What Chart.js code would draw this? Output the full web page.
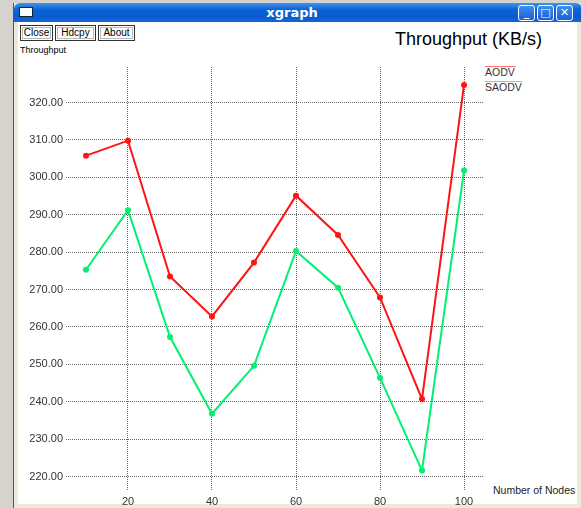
<!DOCTYPE html>
<html>
<head>
<meta charset="utf-8">
<script src="https://cdn.jsdelivr.net/npm/chart.js@4"></script>
<style>
  body { margin: 0; width: 581px; height: 508px; background: #d6d3ce; position: relative; overflow: hidden;
         font-family: "Liberation Sans", Arial, sans-serif; }
  #win { position: absolute; left: 13px; top: 3px; width: 568px; height: 505px; background: #ece9d8;
         border-left: 1px solid #555; }
  #titlebar { position: absolute; left: 0; top: 0; width: 568px; height: 19px; border-radius: 6px 6px 0 0;
              background: linear-gradient(#3f94ec 0%, #0d62d6 35%, #0a5ad0 70%, #1466d8 100%); }
  #titlebar .name { position: absolute; left: 0; width: 556px; top: 2px; text-align: center; color: #fff;
                    font: bold 13px "DejaVu Sans", sans-serif; }
  #titlebar .icon { position: absolute; left: 5px; top: 4px; width: 14px; height: 10px; background: #fff;
                    border: 1px solid #123; box-sizing: border-box; }
  .tb { position: absolute; top: 2px; width: 17px; height: 16px; border: 1px solid #fff; border-radius: 3px;
        box-sizing: border-box; background: linear-gradient(#3c8ff0, #1860d8); color: #fff;
        font: bold 11px "DejaVu Sans", sans-serif; text-align: center; line-height: 13px; }
  #body { position: absolute; left: 4px; top: 19px; width: 559px; height: 482px; background: #fff; }
  .btn { position: absolute; top: 3px; height: 16px; border: 1px solid #333; box-sizing: border-box;
         box-shadow: inset 0 0 0 1px #fff, inset 0 0 0 2px #bbb; font-size: 10px; line-height: 14px;
         text-align: center; color: #000; }
  .txt { position: absolute; color: #000; white-space: nowrap; }
  #chart { position: absolute; left: 17px; top: 56px; }
</style>
</head>
<body>
<div id="win">
  <div id="titlebar">
    <div class="icon"></div>
    <div class="name">xgraph</div>
    <div class="tb" style="left:504px">_</div>
    <div class="tb" style="left:523px">□</div>
    <div class="tb" style="left:542px">✕</div>
  </div>
  <div id="body">
    <div class="btn" style="left:2px;width:33px">Close</div>
    <div class="btn" style="left:37px;width:41px">Hdcpy</div>
    <div class="btn" style="left:80px;width:37px">About</div>
  </div>
</div>
<div class="txt" style="left:20px;top:45px;font-size:9px">Throughput</div>
<div class="txt" style="left:395px;top:29px;font-size:18px">Throughput (KB/s)</div>
<div class="txt" style="left:485px;top:66px;width:31px;height:1px;background:#ff7070"></div>
<div class="txt" style="left:485px;top:66px;font-size:10.5px;color:#333">AODV</div>
<div class="txt" style="left:485px;top:81px;width:37px;height:1px;background:#50f098"></div>
<div class="txt" style="left:485px;top:81px;font-size:10.5px;color:#333">SAODV</div>
<div class="txt" style="left:493px;top:484px;font-size:10.5px;color:#222">Number of Nodes</div>
<canvas id="chart" width="559" height="450"></canvas>
<script>
const nodes = [10, 20, 30, 40, 50, 60, 70, 80, 90, 100];
const aodv = [305.8, 309.8, 273.5, 262.8, 277.2, 295.1, 284.6, 267.9, 240.7, 324.7];
const saodv = [275.3, 291.2, 257.3, 236.8, 249.6, 280.3, 270.5, 246.4, 221.6, 301.8];
const xTicks = [20, 40, 60, 80, 100];
const yTicks = [220, 230, 240, 250, 260, 270, 280, 290, 300, 310, 320];

function series(label, values, color) {
  return {
    label: label,
    data: nodes.map((n, i) => ({ x: n, y: values[i] })),
    borderColor: color,
    backgroundColor: color,
    borderWidth: 2,
    pointRadius: 3,
    pointBorderWidth: 0,
    tension: 0
  };
}

const gridStyle = { color: 'rgba(0,0,0,0.6)', lineWidth: 1, drawTicks: false };

new Chart(document.getElementById('chart').getContext('2d'), {
  type: 'line',
  data: {
    datasets: [
      series('AODV', aodv, '#ff1414'),
      series('SAODV', saodv, '#00f070')
    ]
  },
  options: {
    responsive: false,
    animation: false,
    layout: { padding: { top: 11, right: 92, left: 0, bottom: 0 } },
    plugins: { legend: { display: false }, tooltip: { enabled: false } },
    scales: {
      x: {
        type: 'linear',
        min: 5.24,
        max: 104.76,
        grid: gridStyle,
        border: { display: false, dash: [1, 1] },
        afterBuildTicks: s => { s.ticks = xTicks.map(v => ({ value: v })); },
        afterFit: s => { s.height = 16; },
        ticks: { padding: 5, color: '#333', font: { family: 'Liberation Sans', size: 11 },
                 maxRotation: 0, autoSkip: false }
      },
      y: {
        min: 216.4,
        max: 329.5,
        grid: gridStyle,
        border: { display: false, dash: [1, 1] },
        afterBuildTicks: s => { s.ticks = yTicks.map(v => ({ value: v })); },
        afterFit: s => { s.width = 49; },
        ticks: { padding: 3, color: '#333', font: { family: 'Liberation Sans', size: 11 },
                 callback: v => v.toFixed(2) }
      }
    }
  }
});
</script>
</body>
</html>
